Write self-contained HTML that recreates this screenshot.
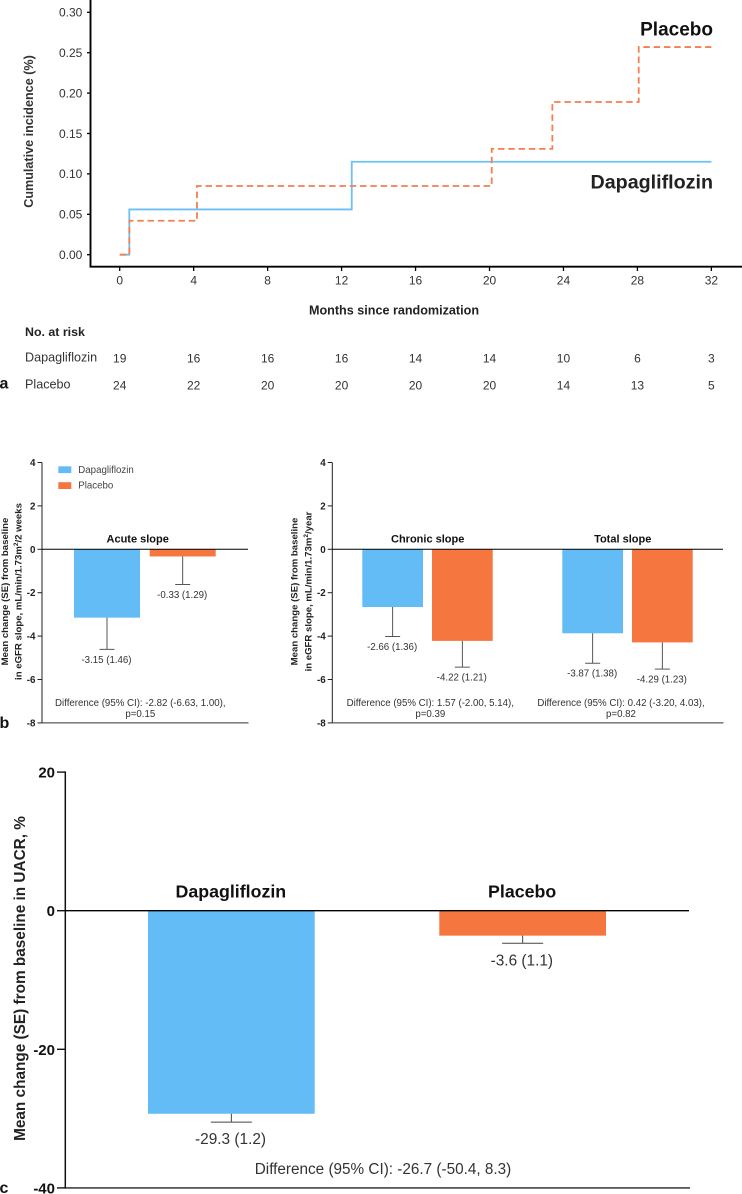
<!DOCTYPE html>
<html lang="en">
<head>
<meta charset="utf-8">
<title>Dapagliflozin versus placebo outcomes</title>
<style>
html,body{margin:0;padding:0;background:#fff;}
#figure{display:block;width:742px;height:1194px;font-family:"Liberation Sans",Arial,sans-serif;}
text{font-family:"Liberation Sans",Arial,sans-serif;}
.b{font-weight:bold;}
</style>
</head>
<body>
<svg id="figure" xmlns="http://www.w3.org/2000/svg" width="742" height="1194" viewBox="0 0 742 1194">
  <g id="panel-a">
    <text class="b" x="33" y="131.5" font-size="12.6" fill="#333" text-anchor="middle" transform="rotate(-90 33 131.5)">Cumulative incidence (%)</text>
    <text class="b" x="394" y="314.5" font-size="12.6" fill="#222" text-anchor="middle">Months since randomization</text>
    <text class="b" x="713" y="35.5" font-size="19" fill="#111" text-anchor="end">Placebo</text>
    <text class="b" x="713" y="188.5" font-size="19.7" fill="#222" text-anchor="end">Dapagliflozin</text>
    <text class="b" x="25" y="336" font-size="12.4" fill="#222">No. at risk</text>
    <text x="25" y="361.5" font-size="12.6" fill="#333">Dapagliflozin</text>
    <text x="25" y="388.5" font-size="12.6" fill="#333">Placebo</text>
    <text class="b" x="-0.5" y="388.5" font-size="16" fill="#111">a</text>
  </g>
  <g id="panel-b">
    <text class="b" x="8" y="591.5" font-size="9.6" fill="#222" text-anchor="middle" transform="rotate(-90 8 591.5)">Mean change (SE) from baseline</text>
    <text class="b" x="21.5" y="591.5" font-size="9.6" fill="#222" text-anchor="middle" transform="rotate(-90 21.5 591.5)">in eGFR slope, mL/min/1.73m<tspan dy="-3.5" font-size="6.5">2</tspan><tspan dy="3.5">/2 weeks</tspan></text>
    <text class="b" x="297.3" y="591.5" font-size="9.6" fill="#222" text-anchor="middle" transform="rotate(-90 297.3 591.5)">Mean change (SE) from baseline</text>
    <text class="b" x="311.7" y="591.5" font-size="9.6" fill="#222" text-anchor="middle" transform="rotate(-90 311.7 591.5)">in eGFR slope, mL/min/1.73m<tspan dy="-3.5" font-size="6.5">2</tspan><tspan dy="3.5">/year</tspan></text>
    <rect x="58.3" y="466.3" width="13" height="6.8" fill="#63bcf5"/>
    <text x="78.3" y="472.8" font-size="9.7" fill="#444">Dapagliflozin</text>
    <rect x="58.3" y="482.2" width="13" height="6.8" fill="#f5763e"/>
    <text x="78.3" y="488.6" font-size="9.7" fill="#444">Placebo</text>
    <text x="140.3" y="706" font-size="9.7" fill="#333" text-anchor="middle">Difference (95% CI): -2.82 (-6.63, 1.00),</text>
    <text x="140.3" y="717" font-size="9.7" fill="#333" text-anchor="middle">p=0.15</text>
    <text x="430.3" y="706" font-size="9.7" fill="#333" text-anchor="middle">Difference (95% CI): 1.57 (-2.00, 5.14),</text>
    <text x="430.3" y="717" font-size="9.7" fill="#333" text-anchor="middle">p=0.39</text>
    <text x="621" y="706" font-size="9.7" fill="#333" text-anchor="middle">Difference (95% CI): 0.42 (-3.20, 4.03),</text>
    <text x="621" y="717" font-size="9.7" fill="#333" text-anchor="middle">p=0.82</text>
    <text class="b" x="-0.5" y="728" font-size="16" fill="#111">b</text>
  </g>
  <g id="panel-c">
    <text class="b" x="25" y="978.5" font-size="15.35" fill="#222" text-anchor="middle" transform="rotate(-90 25 978.5)">Mean change (SE) from baseline in UACR, %</text>
    <text x="383" y="1174" font-size="15.3" fill="#333" text-anchor="middle">Difference (95% CI): -26.7 (-50.4, 8.3)</text>
    <text class="b" x="-0.5" y="1193" font-size="16" fill="#111">c</text>
  </g>
</svg>
<script>
// Panel a: cumulative incidence steps and numbers at risk
const kmXTicks = [0, 4, 8, 12, 16, 20, 24, 28, 32];
const kmYTicks = ["0.00", "0.05", "0.10", "0.15", "0.20", "0.25", "0.30"];
const dapaMonths = [0, 0.52, 12.55, 32];
const dapaIncidence = [0, 0.056, 0.115, 0.115];
const placeboMonths = [0, 0.52, 4.18, 20.12, 23.4, 28.07, 32];
const placeboIncidence = [0, 0.042, 0.085, 0.131, 0.189, 0.257, 0.257];
const dapaAtRisk = [19, 16, 16, 16, 14, 14, 10, 6, 3];
const placeboAtRisk = [24, 22, 20, 20, 20, 20, 14, 13, 5];

// Panel b: eGFR slopes
const slopeYTicks = [4, 2, 0, -2, -4, -6, -8];
const acuteTitles = ["Acute slope"];
const acuteDapaMean = [-3.15];
const acuteDapaSE = [1.46];
const acutePlaceboMean = [-0.33];
const acutePlaceboSE = [1.29];
const longTitles = ["Chronic slope", "Total slope"];
const longDapaMean = [-2.66, -3.87];
const longDapaSE = [1.36, 1.38];
const longPlaceboMean = [-4.22, -4.29];
const longPlaceboSE = [1.21, 1.23];

// Panel c: UACR
const uacrYTicks = [20, 0, -20, -40];
const uacrGroups = ["Dapagliflozin", "Placebo"];
const uacrMean = [-29.3, -3.6];
const uacrSE = [1.2, 1.1];

const BLUE = "#63bcf5";
const ORANGE = "#f5763e";
const NS = "http://www.w3.org/2000/svg";
const svg = document.getElementById("figure");
const panelA = document.getElementById("panel-a");
const panelB = document.getElementById("panel-b");
const panelC = document.getElementById("panel-c");

function mk(parent, tag, props, label) {
  const node = document.createElementNS(NS, tag);
  for (const k in props) node.setAttribute(k, props[k]);
  if (label !== undefined) node.textContent = label;
  parent.appendChild(node);
  return node;
}

// ---------- Panel a ----------
const kmX = t => 119.7 + t * 18.49;
const kmY = v => 254.7 - v * 808;

function stepPath(xs, ys) {
  let d = "M" + kmX(xs[0]) + " " + kmY(ys[0]);
  for (let i = 1; i < xs.length; i++) {
    d += "H" + kmX(xs[i]) + "V" + kmY(ys[i]);
  }
  return d;
}

const dapaLine = mk(panelA, "path", {d: stepPath(dapaMonths, dapaIncidence), fill: "none", stroke: "#6cc0f5", "stroke-width": 1.8});


const placeboLine = mk(panelA, "path", {d: stepPath(placeboMonths, placeboIncidence), fill: "none", stroke: "#f47f50", "stroke-width": 1.8, "stroke-dasharray": "6.5 3.8"});



const kmYAxis = mk(panelA, "line", {x1: 90.5, x2: 90.5, y1: 0, y2: 267.5, stroke: "#000", "stroke-width": 1.9});


const kmXAxis = mk(panelA, "line", {x1: 89.6, x2: 742, y1: 266.7, y2: 266.7, stroke: "#000", "stroke-width": 1.9});



kmYTicks.forEach(lbl => {
  const y = kmY(parseFloat(lbl));
  const tick = mk(panelA, "line", {x1: 87, x2: 90, y1: y, y2: y, stroke: "#000", "stroke-width": 1.3});
  
  
  const text = mk(panelA, "text", {x: 82.3, y: y + 4.3, "font-size": 12, fill: "#333", "text-anchor": "end"}, lbl);
  
  
});

kmXTicks.forEach((t, i) => {
  const x = kmX(t);
  const tick = mk(panelA, "line", {x1: x, x2: x, y1: 267, y2: 271, stroke: "#000", "stroke-width": 1.3});
  
  
  const text = mk(panelA, "text", {x: x, y: 284.5, "font-size": 12, fill: "#333", "text-anchor": "middle"}, String(t));
  
  
  const riskD = mk(panelA, "text", {x: x, y: 362.5, "font-size": 12, fill: "#333", "text-anchor": "middle"}, String(dapaAtRisk[i]));
  
  
  const riskP = mk(panelA, "text", {x: x, y: 389.5, "font-size": 12, fill: "#333", "text-anchor": "middle"}, String(placeboAtRisk[i]));
  
  
});

// ---------- Shared bar drawing ----------
function drawBar(parent, x0, width, yZero, yVal, color, name) {
  const top = Math.min(yZero, yVal);
  const bar = mk(parent, "rect", {x: x0, y: top, width: width, height: Math.abs(yVal - yZero), fill: color});
  
  
}

function drawError(parent, cx, yFrom, yTo, capHalf, sw, name) {
  const stem = mk(parent, "line", {x1: cx, x2: cx, y1: yFrom, y2: yTo, stroke: "#444", "stroke-width": sw});
  
  
  const cap = mk(parent, "line", {x1: cx - capHalf, x2: cx + capHalf, y1: yTo, y2: yTo, stroke: "#444", "stroke-width": sw});
  
  
}

// ---------- Panel b ----------
const slopeY = v => 549.3 - v * 21.7;

function drawSlopeAxes(axisX, rightX, tickLabelX, tickStart, suffix) {
  const yAxis = mk(panelB, "line", {x1: axisX, x2: axisX, y1: slopeY(4), y2: slopeY(-8), stroke: "#222", "stroke-width": 1});
  
  
  const xAxis = mk(panelB, "line", {x1: axisX, x2: rightX, y1: slopeY(-8), y2: slopeY(-8), stroke: "#333", "stroke-width": 1});
  
  
  slopeYTicks.forEach(v => {
    const y = slopeY(v);
    const tick = mk(panelB, "line", {x1: tickStart, x2: axisX, y1: y, y2: y, stroke: "#222", "stroke-width": 1});
    
    
    const text = mk(panelB, "text", {x: tickLabelX, y: y + 3.5, "font-size": 9.8, "font-weight": "bold", fill: "#222", "text-anchor": "end"}, String(v));
    
    
  });
}

function drawSlopeGroups(titles, dMean, dSE, pMean, pSE, firstBarX, barW, seriesStep, groupStep, titleX, suffix) {
  titles.forEach((title, g) => {
    [[dMean, dSE, BLUE, "dapagliflozin"], [pMean, pSE, ORANGE, "placebo"]].forEach((s, k) => {
      const mean = s[0][g];
      const se = s[1][g];
      const x0 = firstBarX + g * groupStep + k * seriesStep;
      const cx = x0 + barW / 2;
      const end = slopeY(mean - se);
      drawBar(panelB, x0, barW, slopeY(0), slopeY(mean), s[2], "bar-" + title.split(" ")[0].toLowerCase() + "-" + s[3]);
      drawError(panelB, cx, slopeY(mean), end, 7.5, 0.9, "error-bar-" + title.split(" ")[0].toLowerCase() + "-" + s[3]);
      const label = mk(panelB, "text", {x: cx - 0.5, y: end + 13.5, "font-size": 9.7, fill: "#333", "text-anchor": "middle"}, mean.toFixed(2) + " (" + se.toFixed(2) + ")");
      
      
    });
    const t = mk(panelB, "text", {x: titleX + g * groupStep * 0.975, y: 542.7, "font-size": 11, "font-weight": "bold", fill: "#111", "text-anchor": "middle"}, title);
    
    
  });
}

drawSlopeAxes(42, 248.5, 35.5, 37.5, "acute");
drawSlopeAxes(332.3, 723.5, 325.7, 327.7, "chronic-total");
drawSlopeGroups(acuteTitles, acuteDapaMean, acuteDapaSE, acutePlaceboMean, acutePlaceboSE, 74, 66, 75.7, 0, 137.7, "acute");
drawSlopeGroups(longTitles, longDapaMean, longDapaSE, longPlaceboMean, longPlaceboSE, 362.3, 60.7, 69.7, 200, 427.7, "long");

const zeroAcute = mk(panelB, "line", {x1: 42, x2: 248, y1: slopeY(0), y2: slopeY(0), stroke: "#000", "stroke-width": 1});


const zeroLong = mk(panelB, "line", {x1: 332.3, x2: 723, y1: slopeY(0), y2: slopeY(0), stroke: "#000", "stroke-width": 1});



// ---------- Panel c ----------
const uacrY = v => 910.7 - v * 6.93;
const uacrYAxis = mk(panelC, "line", {x1: 65.3, x2: 65.3, y1: uacrY(20) - 0.7, y2: uacrY(-40) + 0.7, stroke: "#111", "stroke-width": 1.5});


const uacrXAxis = mk(panelC, "line", {x1: 65.3, x2: 690, y1: uacrY(-40), y2: uacrY(-40), stroke: "#222", "stroke-width": 1.4});



uacrYTicks.forEach(v => {
  const y = uacrY(v);
  const tick = mk(panelC, "line", {x1: 57, x2: 65.3, y1: y, y2: y, stroke: "#111", "stroke-width": 1.4});
  
  
  const text = mk(panelC, "text", {x: 55, y: y + 5.5, "font-size": 15, "font-weight": "bold", fill: "#111", "text-anchor": "end"}, String(v));
  
  
});

uacrGroups.forEach((name, i) => {
  const barW = 166.7;
  const x0 = 148 + i * 291.3;
  const cx = x0 + barW / 2;
  const mean = uacrMean[i];
  const se = uacrSE[i];
  const end = uacrY(mean - se);
  drawBar(panelC, x0, barW, uacrY(0), uacrY(mean), i === 0 ? BLUE : ORANGE, "bar-uacr-" + name.toLowerCase());
  drawError(panelC, cx, uacrY(mean), end, 20.5, 1, "error-bar-uacr-" + name.toLowerCase());
  const label = mk(panelC, "text", {x: cx - 0.8, y: end + 22, "font-size": 15.4, fill: "#333", "text-anchor": "middle"}, mean.toFixed(1) + " (" + se.toFixed(1) + ")");
  
  
  const title = mk(panelC, "text", {x: cx - 0.5, y: 897.3, "font-size": 17.8, "font-weight": "bold", fill: "#111", "text-anchor": "middle"}, name);
  
  
});

const uacrZero = mk(panelC, "line", {x1: 65.3, x2: 689, y1: uacrY(0), y2: uacrY(0), stroke: "#000", "stroke-width": 1.3});


</script>
</body>
</html>
